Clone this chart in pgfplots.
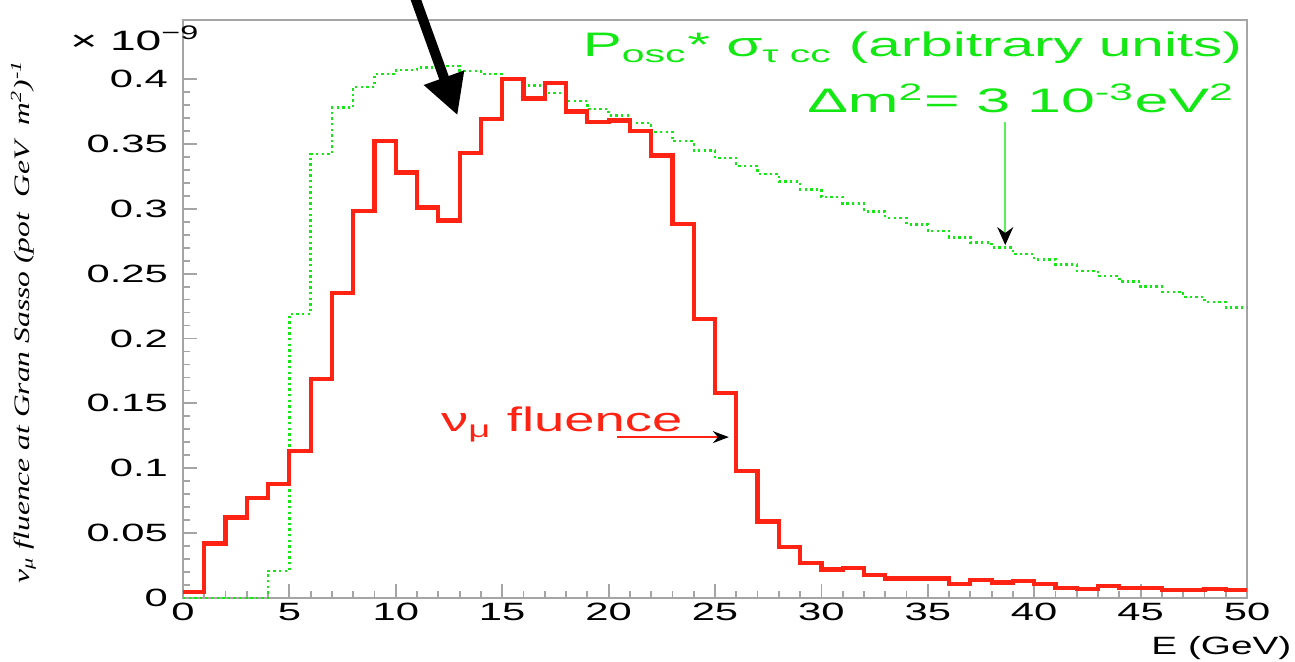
\documentclass[border=0pt]{standalone}
\usepackage{graphicx}
\usepackage{pgfplots}
\pgfplotsset{compat=1.18}
\usepackage{fontspec}
\setmainfont{Liberation Sans}
\newfontfamily\timesfam{Liberation Serif}
\usetikzlibrary{arrows.meta}
\definecolor{hred}{RGB}{255,35,20}
\definecolor{hgrn}{RGB}{20,232,20}
\definecolor{frame}{RGB}{165,165,165}

\pgfplotstableread{
E v
0 0.0045
1 0.042
2 0.062
3 0.077
4 0.088
5 0.113
6 0.169
7 0.235
8 0.298
9 0.352
10 0.328
11 0.301
12 0.291
13 0.343
14 0.369
15 0.400
16 0.385
17 0.397
18 0.375
19 0.367
20 0.368
21 0.360
22 0.341
23 0.288
24 0.215
25 0.158
26 0.098
27 0.059
28 0.039
29 0.027
30 0.022
31 0.023
32 0.018
33 0.015
34 0.015
35 0.015
36 0.011
37 0.014
38 0.012
39 0.013
40 0.011
41 0.008
42 0.007
43 0.009
44 0.008
45 0.008
46 0.006
47 0.006
48 0.007
49 0.006
50 0.006
}\fluence

\pgfplotstableread{
E v
0 0
1 0
2 0
3 0
4 0.021
5 0.219
6 0.342
7 0.378
8 0.394
9 0.404
10 0.407
11 0.409
12 0.410
13 0.406
14 0.404
15 0.400
16 0.395
17 0.389
18 0.383
19 0.377
20 0.372
21 0.366
22 0.359
23 0.352
24 0.345
25 0.339
26 0.333
27 0.327
28 0.321
29 0.315
30 0.309
31 0.304
32 0.298
33 0.293
34 0.288
35 0.283
36 0.278
37 0.274
38 0.270
39 0.265
40 0.261
41 0.257
42 0.252
43 0.248
44 0.244
45 0.240
46 0.236
47 0.232
48 0.228
49 0.224
50 0.224
}\posc

\begin{document}
\begin{tikzpicture}
\path[use as bounding box] (-91.5pt,-32pt) rectangle (556pt,299pt);
\begin{axis}[
  at={(0,0)}, anchor=south west,
  scale only axis, width=532pt, height=289pt,
  xmin=0, xmax=50, ymin=0, ymax=0.4455,
  clip=false,
  axis line style={frame, line width=1.3pt},
  tick pos=left, tick align=inside,
  major tick length=7pt, minor tick length=3.5pt,
  every tick/.style={frame, line width=0.9pt},
  xtick={0,5,...,50},
  xticklabels={0,5,10,15,20,25,30,35,40,45,50},
  minor x tick num=4,
  ytick={0,0.05,0.1,0.15,0.2,0.25,0.3,0.35,0.4},
  yticklabels={0,0.05,0.1,0.15,0.2,0.25,0.3,0.35,0.4},
  minor y tick num=4,
  tick label style={font=\fontsize{12.5}{14}\selectfont, xscale=1.67},
  yticklabel style={xshift=-1pt},
  xticklabel style={yshift=1pt},
  xlabel={E (GeV)},
  xlabel style={at={(rel axis cs:1.052,-0.086)}, anchor=east, font=\fontsize{12.5}{14}\selectfont, xscale=1.55},
  ylabel={\resizebox{262pt}{!}{\scalebox{1}[0.7]{\timesfam\itshape ν\textsubscript{μ} fluence at Gran Sasso (pot\ \ GeV\ \ m\textsuperscript{2})\textsuperscript{-1}}}},
  ylabel style={at={(rel axis cs:-0.150,0.478)}, anchor=center},
]
\addplot[hgrn, line width=1.2pt, dash pattern=on 1.2pt off 1.6pt, const plot] table[x=E,y=v] {\posc};
\addplot[hred, line width=2.1pt, const plot] table[x=E,y=v] {\fluence};

% annotations
\node[anchor=base east, text=hgrn, font=\fontsize{17}{19}\selectfont, xscale=1.72, inner sep=0pt]
  at (axis cs:49.8,0.417) {P\textsubscript{osc}* σ\textsubscript{τ cc} (arbitrary units)};
\node[anchor=base east, text=hgrn, font=\fontsize{17}{19}\selectfont, xscale=1.79, inner sep=0pt]
  at (axis cs:49.45,0.374) {Δm\textsuperscript{2}= 3 10\textsuperscript{-3}eV\textsuperscript{2}};
\node[anchor=base west, text=hred, font=\fontsize{17}{19}\selectfont, xscale=1.6, inner sep=0pt]
  at (axis cs:12.1,0.128) {ν\textsubscript{μ} fluence};
\draw[hgrn!70, line width=0.8pt, -{Stealth[black, length=9pt, width=8pt]}] (axis cs:38.64,0.367) -- (axis cs:38.64,0.272);
\draw[hred, line width=0.7pt, -{Stealth[black, length=8pt, width=6pt]}] (axis cs:20.4,0.124) -- (axis cs:25.65,0.124);
\draw[black, line width=5pt, -{Triangle[length=20pt, width=20pt]}] (axis cs:10.75,0.47) -- (axis cs:12.9,0.372);
\node[anchor=base, font=\fontsize{14}{16}\selectfont, xscale=1.65, inner sep=0pt] at (rel axis cs:-0.045,0.948) {× 10\textsuperscript{−9}};
\end{axis}
\end{tikzpicture}
\end{document}
